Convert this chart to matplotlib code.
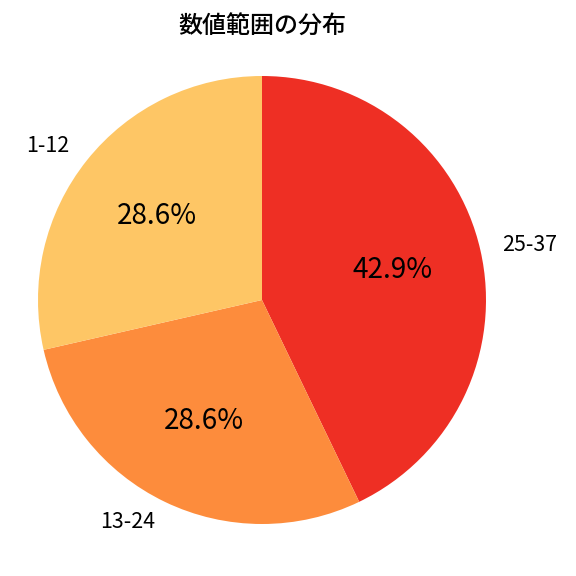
import matplotlib
matplotlib.use('Agg')
import matplotlib.pyplot as plt

plt.rcParams['font.family'] = ['Noto Sans CJK JP', 'DejaVu Sans']

# データ
labels = ['25-37', '13-24', '1-12']
counts = [3, 2, 2]
colors = ['#EE2F24', '#FD8C3C', '#FEC665']

fig = plt.figure(figsize=(6, 6), dpi=96)
ax = fig.add_axes([38 / 576, 52 / 576, 448 / 576, 448 / 576])
wedges, texts, autotexts = ax.pie(
    counts,
    labels=labels,
    colors=colors,
    autopct='%1.1f%%',
    startangle=90,
    counterclock=False,
    labeldistance=1.1,
    pctdistance=0.6,
    textprops={'fontsize': 16},
)
for t in autotexts:
    t.set_fontsize(21)
ax.set_xlim(-1, 1)
ax.set_ylim(-1, 1)
ax.set_aspect('equal')
fig.text(262 / 576, 1 - 27 / 576, '数値範囲の分布', ha='center', va='center',
         fontsize=18, fontweight='medium')

plt.savefig('out.png', dpi=96)
